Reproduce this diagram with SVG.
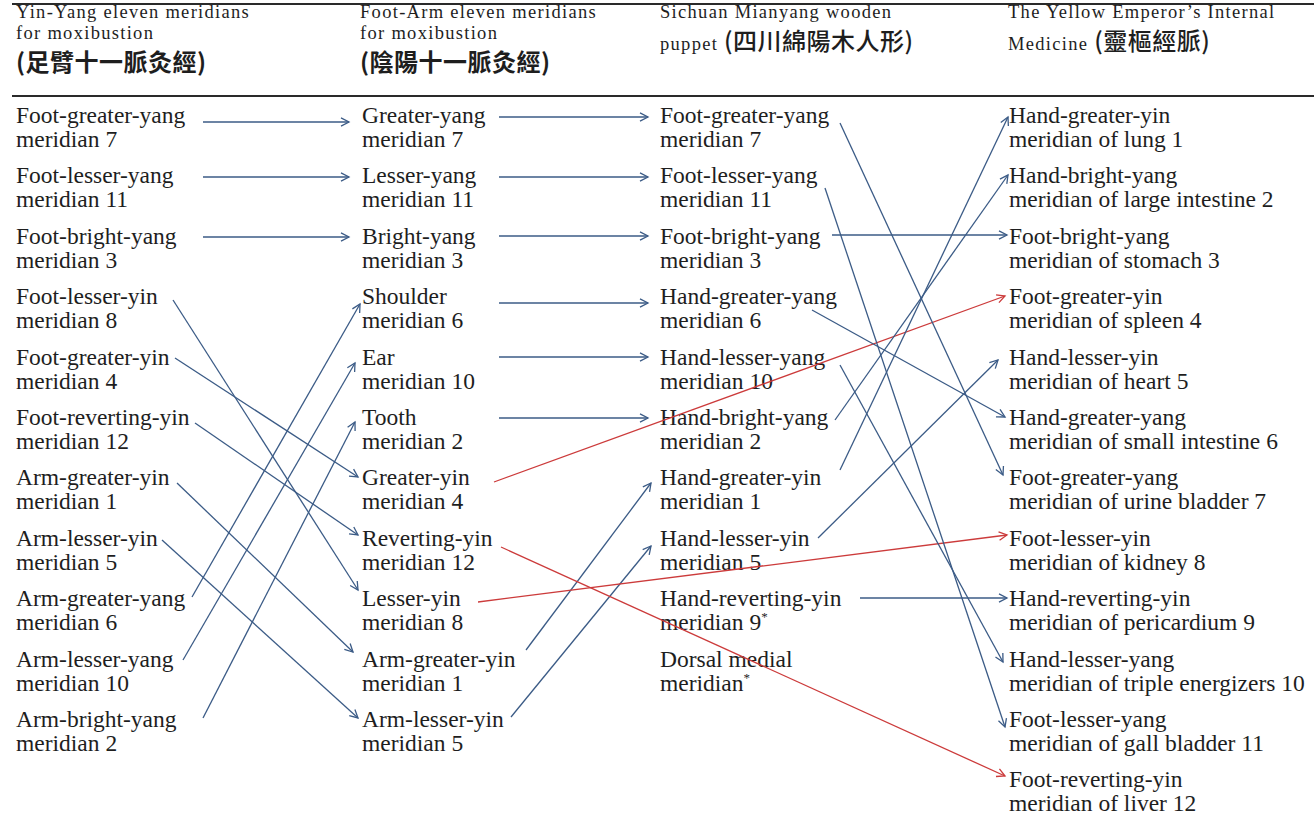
<svg xmlns="http://www.w3.org/2000/svg" width="1314" height="825" viewBox="0 0 1314 825">
<defs>
<style>
.t{font-family:"Liberation Serif","Times New Roman",serif;font-size:23.5px;fill:#1e1e1e}
.h{font-family:"Liberation Serif","Times New Roman",serif;font-size:18.5px;letter-spacing:1.3px;fill:#1e1e1e}
.zh{font-family:"Noto Sans CJK TC","Noto Sans CJK SC",sans-serif;font-size:24px;font-weight:700;letter-spacing:0.5px}
.zm{font-family:"Noto Sans CJK TC","Noto Sans CJK SC",sans-serif;font-size:24px;font-weight:500;letter-spacing:0.5px}
.sup{font-size:13px}
.rule{stroke:#2a2a2a;stroke-width:1.8}
.b{stroke:#3b5b86;stroke-width:1.3;fill:none;marker-end:url(#ab)}
.r{stroke:#cc3b3b;stroke-width:1.3;fill:none;marker-end:url(#ar)}
</style>
<marker id="ab" markerUnits="userSpaceOnUse" markerWidth="12" markerHeight="12" refX="9" refY="5" orient="auto" viewBox="0 0 12 10">
<path d="M1,0.8 L9,5 L1,9.2" fill="none" stroke="#3b5b86" stroke-width="1.3"/>
</marker>
<marker id="ar" markerUnits="userSpaceOnUse" markerWidth="12" markerHeight="12" refX="9" refY="5" orient="auto" viewBox="0 0 12 10">
<path d="M1,0.8 L9,5 L1,9.2" fill="none" stroke="#cc3b3b" stroke-width="1.3"/>
</marker>
</defs>
<rect width="1314" height="825" fill="#fff"/>
<g id="header">
<line class="rule" x1="12" y1="4" x2="1314" y2="4"/>
<line class="rule" x1="12" y1="96" x2="1314" y2="96"/>
<g id="h1"><text class="h"><tspan x="16" y="18">Yin-Yang eleven meridians</tspan><tspan x="16" y="39">for moxibustion</tspan><tspan class="zh" x="16" y="71">(足臂十一脈灸經)</tspan></text></g>
<g id="h2"><text class="h"><tspan x="360" y="18">Foot-Arm eleven meridians</tspan><tspan x="360" y="39">for moxibustion</tspan><tspan class="zh" x="360" y="71">(陰陽十一脈灸經)</tspan></text></g>
<g id="h3"><text class="h"><tspan x="660" y="18">Sichuan Mianyang wooden</tspan><tspan x="660" y="50">puppet </tspan><tspan class="zm">(四川綿陽木人形)</tspan></text></g>
<g id="h4"><text class="h"><tspan x="1008" y="18">The Yellow Emperor’s Internal</tspan><tspan x="1008" y="50">Medicine </tspan><tspan class="zm">(靈樞經脈)</tspan></text></g>
</g>
<g id="col1">
<g id="c1-0"><text class="t" x="16" y="123">Foot-greater-yang</text><text class="t" x="16" y="147">meridian 7</text></g>
<g id="c1-1"><text class="t" x="16" y="183">Foot-lesser-yang</text><text class="t" x="16" y="207">meridian 11</text></g>
<g id="c1-2"><text class="t" x="16" y="244">Foot-bright-yang</text><text class="t" x="16" y="268">meridian 3</text></g>
<g id="c1-3"><text class="t" x="16" y="304">Foot-lesser-yin</text><text class="t" x="16" y="328">meridian 8</text></g>
<g id="c1-4"><text class="t" x="16" y="365">Foot-greater-yin</text><text class="t" x="16" y="389">meridian 4</text></g>
<g id="c1-5"><text class="t" x="16" y="425">Foot-reverting-yin</text><text class="t" x="16" y="449">meridian 12</text></g>
<g id="c1-6"><text class="t" x="16" y="485">Arm-greater-yin</text><text class="t" x="16" y="509">meridian 1</text></g>
<g id="c1-7"><text class="t" x="16" y="546">Arm-lesser-yin</text><text class="t" x="16" y="570">meridian 5</text></g>
<g id="c1-8"><text class="t" x="16" y="606">Arm-greater-yang</text><text class="t" x="16" y="630">meridian 6</text></g>
<g id="c1-9"><text class="t" x="16" y="667">Arm-lesser-yang</text><text class="t" x="16" y="691">meridian 10</text></g>
<g id="c1-10"><text class="t" x="16" y="727">Arm-bright-yang</text><text class="t" x="16" y="751">meridian 2</text></g>
</g>
<g id="col2">
<g id="c2-0"><text class="t" x="362" y="123">Greater-yang</text><text class="t" x="362" y="147">meridian 7</text></g>
<g id="c2-1"><text class="t" x="362" y="183">Lesser-yang</text><text class="t" x="362" y="207">meridian 11</text></g>
<g id="c2-2"><text class="t" x="362" y="244">Bright-yang</text><text class="t" x="362" y="268">meridian 3</text></g>
<g id="c2-3"><text class="t" x="362" y="304">Shoulder</text><text class="t" x="362" y="328">meridian 6</text></g>
<g id="c2-4"><text class="t" x="362" y="365">Ear</text><text class="t" x="362" y="389">meridian 10</text></g>
<g id="c2-5"><text class="t" x="362" y="425">Tooth</text><text class="t" x="362" y="449">meridian 2</text></g>
<g id="c2-6"><text class="t" x="362" y="485">Greater-yin</text><text class="t" x="362" y="509">meridian 4</text></g>
<g id="c2-7"><text class="t" x="362" y="546">Reverting-yin</text><text class="t" x="362" y="570">meridian 12</text></g>
<g id="c2-8"><text class="t" x="362" y="606">Lesser-yin</text><text class="t" x="362" y="630">meridian 8</text></g>
<g id="c2-9"><text class="t" x="362" y="667">Arm-greater-yin</text><text class="t" x="362" y="691">meridian 1</text></g>
<g id="c2-10"><text class="t" x="362" y="727">Arm-lesser-yin</text><text class="t" x="362" y="751">meridian 5</text></g>
</g>
<g id="col3">
<g id="c3-0"><text class="t" x="660" y="123">Foot-greater-yang</text><text class="t" x="660" y="147">meridian 7</text></g>
<g id="c3-1"><text class="t" x="660" y="183">Foot-lesser-yang</text><text class="t" x="660" y="207">meridian 11</text></g>
<g id="c3-2"><text class="t" x="660" y="244">Foot-bright-yang</text><text class="t" x="660" y="268">meridian 3</text></g>
<g id="c3-3"><text class="t" x="660" y="304">Hand-greater-yang</text><text class="t" x="660" y="328">meridian 6</text></g>
<g id="c3-4"><text class="t" x="660" y="365">Hand-lesser-yang</text><text class="t" x="660" y="389">meridian 10</text></g>
<g id="c3-5"><text class="t" x="660" y="425">Hand-bright-yang</text><text class="t" x="660" y="449">meridian 2</text></g>
<g id="c3-6"><text class="t" x="660" y="485">Hand-greater-yin</text><text class="t" x="660" y="509">meridian 1</text></g>
<g id="c3-7"><text class="t" x="660" y="546">Hand-lesser-yin</text><text class="t" x="660" y="570">meridian 5</text></g>
<g id="c3-8"><text class="t" x="660" y="606">Hand-reverting-yin</text><text class="t" x="660" y="630">meridian 9<tspan class="sup" dy="-9">*</tspan></text></g>
<g id="c3-9"><text class="t" x="660" y="667">Dorsal medial</text><text class="t" x="660" y="691">meridian<tspan class="sup" dy="-9">*</tspan></text></g>
</g>
<g id="col4">
<g id="c4-0"><text class="t" x="1009" y="123">Hand-greater-yin</text><text class="t" x="1009" y="147">meridian of lung 1</text></g>
<g id="c4-1"><text class="t" x="1009" y="183">Hand-bright-yang</text><text class="t" x="1009" y="207">meridian of large intestine 2</text></g>
<g id="c4-2"><text class="t" x="1009" y="244">Foot-bright-yang</text><text class="t" x="1009" y="268">meridian of stomach 3</text></g>
<g id="c4-3"><text class="t" x="1009" y="304">Foot-greater-yin</text><text class="t" x="1009" y="328">meridian of spleen 4</text></g>
<g id="c4-4"><text class="t" x="1009" y="365">Hand-lesser-yin</text><text class="t" x="1009" y="389">meridian of heart 5</text></g>
<g id="c4-5"><text class="t" x="1009" y="425">Hand-greater-yang</text><text class="t" x="1009" y="449">meridian of small intestine 6</text></g>
<g id="c4-6"><text class="t" x="1009" y="485">Foot-greater-yang</text><text class="t" x="1009" y="509">meridian of urine bladder 7</text></g>
<g id="c4-7"><text class="t" x="1009" y="546">Foot-lesser-yin</text><text class="t" x="1009" y="570">meridian of kidney 8</text></g>
<g id="c4-8"><text class="t" x="1009" y="606">Hand-reverting-yin</text><text class="t" x="1009" y="630">meridian of pericardium 9</text></g>
<g id="c4-9"><text class="t" x="1009" y="667">Hand-lesser-yang</text><text class="t" x="1009" y="691">meridian of triple energizers 10</text></g>
<g id="c4-10"><text class="t" x="1009" y="727">Foot-lesser-yang</text><text class="t" x="1009" y="751">meridian of gall bladder 11</text></g>
<g id="c4-11"><text class="t" x="1009" y="787">Foot-reverting-yin</text><text class="t" x="1009" y="811">meridian of liver 12</text></g>
</g>
<g id="connectors">
<line class="b" x1="203" y1="122" x2="349" y2="122"/>
<line class="b" x1="203" y1="177" x2="349" y2="177"/>
<line class="b" x1="203" y1="237" x2="349" y2="237"/>
<line class="b" x1="173" y1="300" x2="358" y2="590"/>
<line class="b" x1="175" y1="358" x2="358" y2="477"/>
<line class="b" x1="195" y1="423" x2="358" y2="535"/>
<line class="b" x1="177" y1="483" x2="353" y2="652"/>
<line class="b" x1="162" y1="540" x2="358" y2="718"/>
<line class="b" x1="192" y1="597" x2="360" y2="304"/>
<line class="b" x1="183" y1="660" x2="355" y2="363"/>
<line class="b" x1="203" y1="718" x2="355" y2="422"/>
<line class="b" x1="499" y1="117" x2="648" y2="117"/>
<line class="b" x1="499" y1="177" x2="648" y2="177"/>
<line class="b" x1="499" y1="236" x2="648" y2="236"/>
<line class="b" x1="499" y1="303" x2="648" y2="303"/>
<line class="b" x1="499" y1="357" x2="648" y2="357"/>
<line class="b" x1="499" y1="418" x2="648" y2="418"/>
<line class="b" x1="526" y1="650" x2="651" y2="483"/>
<line class="b" x1="511" y1="717" x2="651" y2="546"/>
<line class="r" x1="494" y1="482" x2="1005" y2="296"/>
<line class="r" x1="501" y1="547" x2="1005" y2="776"/>
<line class="r" x1="478" y1="602" x2="1007" y2="535"/>
<line class="b" x1="840" y1="123" x2="1003" y2="475"/>
<line class="b" x1="825" y1="188" x2="1005" y2="727"/>
<line class="b" x1="832" y1="235" x2="1007" y2="235"/>
<line class="b" x1="812" y1="310" x2="1005" y2="417"/>
<line class="b" x1="840" y1="365" x2="1003" y2="662"/>
<line class="b" x1="835" y1="420" x2="1008" y2="175"/>
<line class="b" x1="840" y1="470" x2="1008" y2="117"/>
<line class="b" x1="818" y1="538" x2="998" y2="360"/>
<line class="b" x1="860" y1="598" x2="1007" y2="598"/>
</g>
</svg>
